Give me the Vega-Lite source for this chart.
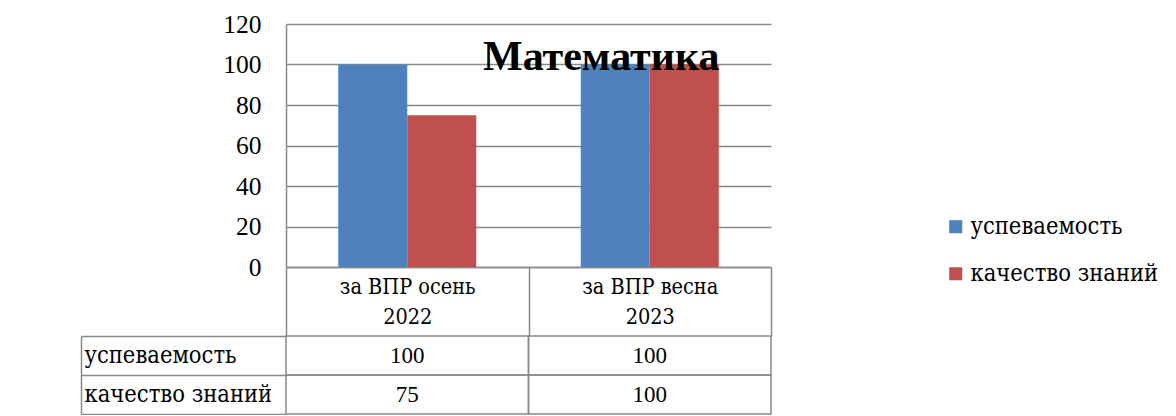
{
  "$schema": "https://vega.github.io/schema/vega-lite/v6.json",
  "padding": {"left": 80, "top": 12, "right": 0, "bottom": 0},
  "background": "white",
  "datasets": {
    "main": [
      {"period": "за ВПР осень 2022", "series": "успеваемость", "value": 100},
      {"period": "за ВПР осень 2022", "series": "качество знаний", "value": 75},
      {"period": "за ВПР весна 2023", "series": "успеваемость", "value": 100},
      {"period": "за ВПР весна 2023", "series": "качество знаний", "value": 100}
    ],
    "heading": [
      {"title": "Математика"}
    ]
  },
  "spacing": 69,
  "bounds": "flush",
  "resolve": {"scale": {"color": "independent"}, "legend": {"color": "independent"}},
  "vconcat": [
    {
      "width": 485,
      "height": 243,
      "layer": [
        {
          "data": {"name": "main"},
          "mark": {"type": "bar"},
          "encoding": {
            "x": {
              "field": "period",
              "type": "nominal",
              "sort": null,
              "scale": {"paddingInner": 0, "paddingOuter": 0},
              "axis": {
                "title": null,
                "orient": "bottom",
                "tickBand": "extent",
                "ticks": true,
                "tickSize": 69,
                "tickColor": "#898989",
                "tickWidth": 1.5,
                "domainColor": "#898989",
                "domainWidth": 1.5,
                "labelAngle": 0,
                "labelFont": "DejaVu Serif Condensed, DejaVu Serif",
                "labelFontSize": 21.5,
                "labelColor": "#000000",
                "labelBaseline": "top",
                "labelLineHeight": 30,
                "labelPadding": -60,
                "labelOverlap": false,
                "labelExpr": "[slice(datum.label, 0, -5), slice(datum.label, -4)]"
              }
            },
            "xOffset": {
              "field": "series",
              "type": "nominal",
              "sort": ["успеваемость", "качество знаний"],
              "scale": {"paddingInner": 0, "paddingOuter": 0.757}
            },
            "y": {
              "field": "value",
              "type": "quantitative",
              "scale": {"domain": [0, 120], "nice": false},
              "axis": {
                "title": null,
                "values": [0, 20, 40, 60, 80, 100, 120],
                "ticks": false,
                "grid": true,
                "gridColor": "#898989",
                "gridWidth": 1.5,
                "domainColor": "#898989",
                "domainWidth": 1.5,
                "labelFont": "serif",
                "labelFontSize": 25.5,
                "labelColor": "#000000",
                "labelPadding": 25
              }
            },
            "color": {
              "field": "series",
              "type": "nominal",
              "sort": ["успеваемость", "качество знаний"],
              "scale": {"domain": ["успеваемость", "качество знаний"], "range": ["#4F81BD", "#C0504D"]},
              "legend": {
                "title": null,
                "orient": "none",
                "legendX": 658,
                "legendY": 191,
                "padding": 0,
                "symbolType": "square",
                "symbolSize": 170,
                "symbolStrokeWidth": 0,
                "labelFont": "DejaVu Serif Condensed, DejaVu Serif",
                "labelFontSize": 23.5,
                "labelLimit": 400,
                "labelColor": "#000000",
                "labelOffset": 3,
                "rowPadding": 22
              }
            }
          }
        },
        {
          "data": {"name": "heading"},
          "mark": {"type": "text", "font": "serif", "fontSize": 42, "fontWeight": "bold", "color": "#000000", "align": "center", "baseline": "alphabetic"},
          "encoding": {
            "x": {"datum": "за ВПР весна 2023", "type": "nominal", "bandPosition": 0.3},
            "y": {"datum": 97.3, "type": "quantitative"},
            "text": {"field": "title", "type": "nominal"}
          }
        }
      ]
    },
    {
      "width": 485,
      "height": 78,
      "data": {"name": "main"},
      "layer": [
        {
          "mark": {"type": "rect", "filled": false, "color": "#898989", "strokeWidth": 1.5},
          "encoding": {
            "x": {"field": "period", "type": "nominal", "sort": null, "scale": {"paddingInner": 0, "paddingOuter": 0}, "axis": null},
            "y": {
              "field": "series",
              "type": "nominal",
              "sort": ["успеваемость", "качество знаний"],
              "scale": {"paddingInner": 0, "paddingOuter": 0},
              "axis": {
                "title": null,
                "orient": "left",
                "offset": 205,
                "tickBand": "extent",
                "ticks": true,
                "tickSize": -205,
                "tickColor": "#898989",
                "tickWidth": 1.5,
                "domainColor": "#898989",
                "domainWidth": 1.5,
                "labelAlign": "left",
                "labelBaseline": "middle",
                "labelPadding": 202,
                "labelFont": "DejaVu Serif Condensed, DejaVu Serif",
                "labelFontSize": 23.5,
                "labelLimit": 400,
                "labelColor": "#000000"
              }
            }
          }
        },
        {
          "mark": {"type": "text", "font": "serif", "fontSize": 23, "color": "#000000"},
          "encoding": {
            "x": {"field": "period", "type": "nominal", "sort": null},
            "y": {"field": "series", "type": "nominal", "sort": ["успеваемость", "качество знаний"]},
            "text": {"field": "value", "type": "quantitative"}
          }
        }
      ]
    }
  ],
  "config": {
    "font": "serif",
    "view": {"stroke": null}
  }
}
